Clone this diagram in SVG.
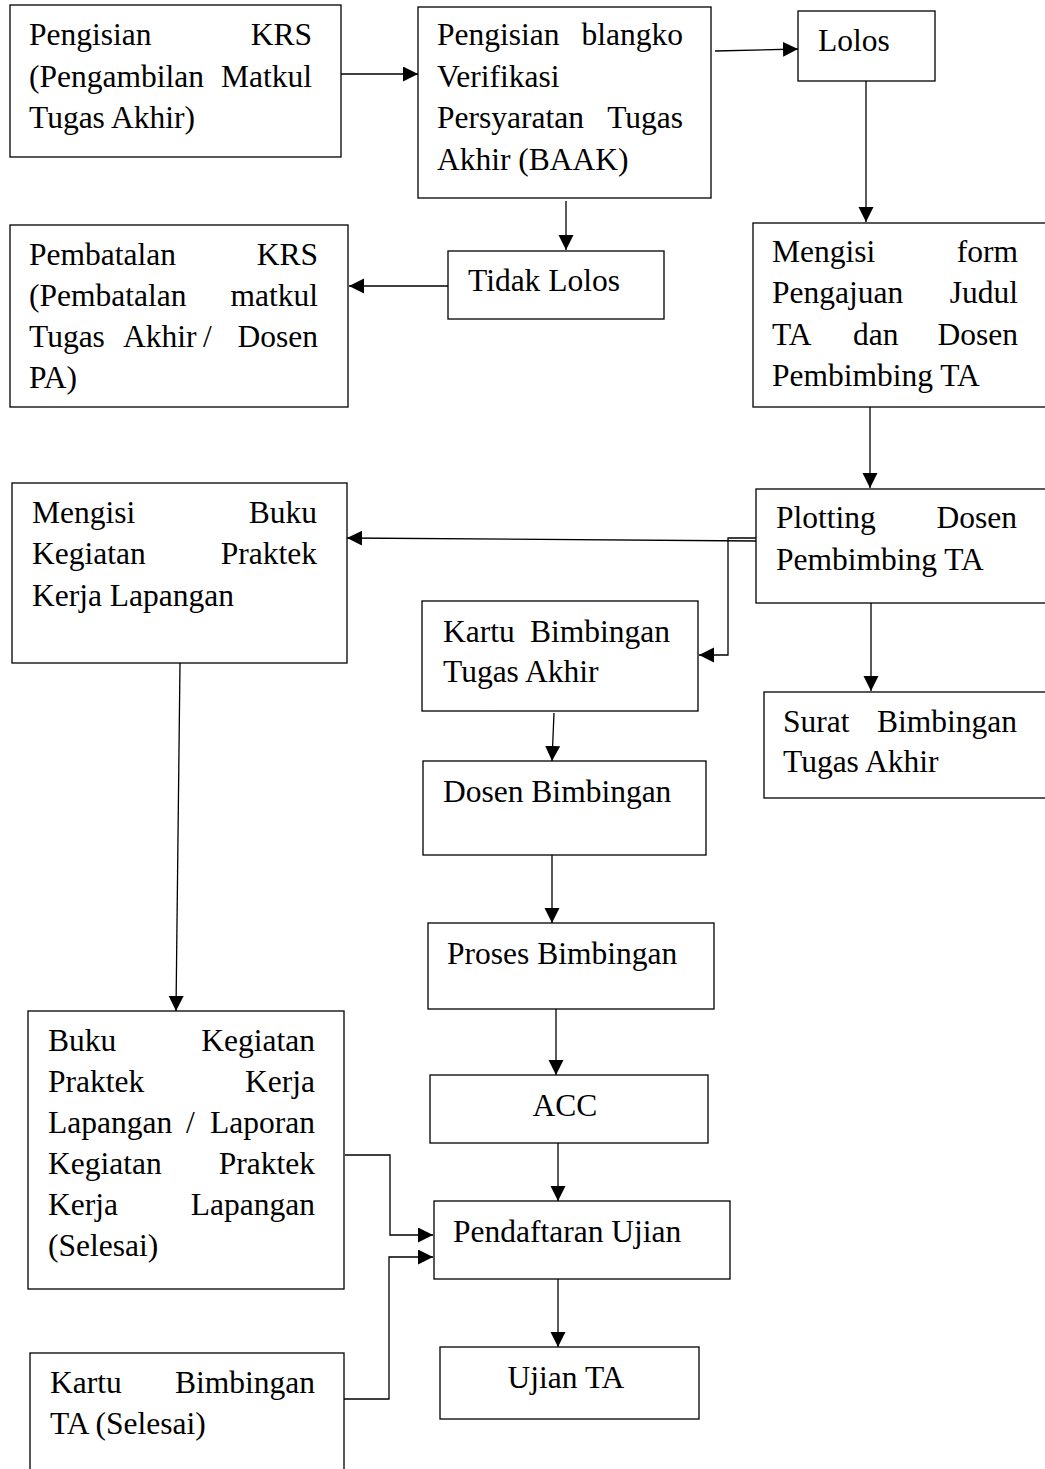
<svg xmlns="http://www.w3.org/2000/svg" width="1045" height="1469" viewBox="0 0 1045 1469">
<style>
rect{fill:#fff;stroke:#000;stroke-width:1.3}
text{font-family:"Liberation Serif","Times New Roman",serif;font-size:31.5px;fill:#000}
.e{text-anchor:end}
.m{text-anchor:middle}
.c{fill:none;stroke:#000;stroke-width:1.3}
</style>
<defs>
<marker id="ah" markerUnits="userSpaceOnUse" markerWidth="16" markerHeight="16" refX="15" refY="7.5" orient="auto">
<path d="M0,0 L15,7.5 L0,15 z" fill="#000"/>
</marker>
</defs>
<rect x="0" y="0" width="1045" height="1469" style="stroke:none"/>
<g id="connectors">
<path class="c" d="M341,74 L418,74" marker-end="url(#ah)"/>
<path class="c" d="M715,51 L798,49" marker-end="url(#ah)"/>
<path class="c" d="M866,81 L866,222" marker-end="url(#ah)"/>
<path class="c" d="M566,201 L566,250" marker-end="url(#ah)"/>
<path class="c" d="M448,286 L349,286" marker-end="url(#ah)"/>
<path class="c" d="M870,407 L870,488" marker-end="url(#ah)"/>
<path class="c" d="M756,541 L347,538" marker-end="url(#ah)"/>
<path class="c" d="M756,538 L728,538 L728,655 L699,655" marker-end="url(#ah)"/>
<path class="c" d="M871,603 L871,691" marker-end="url(#ah)"/>
<path class="c" d="M180,663 L176,1011" marker-end="url(#ah)"/>
<path class="c" d="M554,713 L552,761" marker-end="url(#ah)"/>
<path class="c" d="M552,855 L552,923" marker-end="url(#ah)"/>
<path class="c" d="M556,1009 L556,1075" marker-end="url(#ah)"/>
<path class="c" d="M558,1143 L558,1201" marker-end="url(#ah)"/>
<path class="c" d="M558,1279 L558,1347" marker-end="url(#ah)"/>
<path class="c" d="M345,1155 L390,1155 L390,1235 L433,1235" marker-end="url(#ah)"/>
<path class="c" d="M344,1399 L389,1399 L389,1257 L433,1257" marker-end="url(#ah)"/>
</g>
<g id="n-krs">
<rect x="10" y="5" width="331" height="152"/>
<text x="29" y="45">Pengisian</text><text class="e" x="312" y="45">KRS</text>
<text x="29" y="87">(Pengambilan</text><text class="e" x="312" y="87">Matkul</text>
<text x="29" y="128">Tugas Akhir)</text>
</g>
<g id="n-blangko">
<rect x="418" y="7" width="293" height="191"/>
<text x="437" y="45">Pengisian</text><text class="e" x="683" y="45">blangko</text>
<text x="437" y="87">Verifikasi</text>
<text x="437" y="128">Persyaratan</text><text class="e" x="683" y="128">Tugas</text>
<text x="437" y="170">Akhir (BAAK)</text>
</g>
<g id="n-lolos">
<rect x="798" y="11" width="137" height="70"/>
<text x="818" y="51">Lolos</text>
</g>
<g id="n-tidak">
<rect x="448" y="251" width="216" height="68"/>
<text x="468" y="291">Tidak Lolos</text>
</g>
<g id="n-pembatalan">
<rect x="10" y="225" width="338" height="182"/>
<text x="29" y="265">Pembatalan</text><text class="e" x="318" y="265">KRS</text>
<text x="29" y="306">(Pembatalan</text><text class="e" x="318" y="306">matkul</text>
<text y="347"><tspan x="29">Tugas</tspan><tspan x="123">Akhir</tspan><tspan x="203">/</tspan></text><text class="e" x="318" y="347">Dosen</text>
<text x="29" y="388">PA)</text>
</g>
<g id="n-mengisi-form">
<rect x="753" y="223" width="300" height="184"/>
<text x="772" y="262">Mengisi</text><text class="e" x="1018" y="262">form</text>
<text x="772" y="303">Pengajuan</text><text class="e" x="1018" y="303">Judul</text>
<text y="345"><tspan x="772">TA</tspan><tspan x="853">dan</tspan></text><text class="e" x="1018" y="345">Dosen</text>
<text x="772" y="386">Pembimbing TA</text>
</g>
<g id="n-plotting">
<rect x="756" y="489" width="300" height="114"/>
<text x="776" y="528">Plotting</text><text class="e" x="1017" y="528">Dosen</text>
<text x="776" y="570">Pembimbing TA</text>
</g>
<g id="n-mengisi-buku">
<rect x="12" y="483" width="335" height="180"/>
<text x="32" y="523">Mengisi</text><text class="e" x="317" y="523">Buku</text>
<text x="32" y="564">Kegiatan</text><text class="e" x="317" y="564">Praktek</text>
<text x="32" y="606">Kerja Lapangan</text>
</g>
<g id="n-kartu">
<rect x="422" y="601" width="276" height="110"/>
<text x="443" y="642">Kartu</text><text class="e" x="670" y="642">Bimbingan</text>
<text x="443" y="682">Tugas Akhir</text>
</g>
<g id="n-surat">
<rect x="764" y="692" width="300" height="106"/>
<text x="783" y="732">Surat</text><text class="e" x="1017" y="732">Bimbingan</text>
<text x="783" y="772">Tugas Akhir</text>
</g>
<g id="n-dosen">
<rect x="423" y="761" width="283" height="94"/>
<text x="443" y="802">Dosen Bimbingan</text>
</g>
<g id="n-proses">
<rect x="428" y="923" width="286" height="86"/>
<text x="447" y="964">Proses Bimbingan</text>
</g>
<g id="n-acc">
<rect x="430" y="1075" width="278" height="68"/>
<text class="m" x="565" y="1116">ACC</text>
</g>
<g id="n-buku-kegiatan">
<rect x="28" y="1011" width="316" height="278"/>
<text x="48" y="1051">Buku</text><text class="e" x="315" y="1051">Kegiatan</text>
<text x="48" y="1092">Praktek</text><text class="e" x="315" y="1092">Kerja</text>
<text y="1133"><tspan x="48">Lapangan</tspan><tspan x="186">/</tspan></text><text class="e" x="315" y="1133">Laporan</text>
<text x="48" y="1174">Kegiatan</text><text class="e" x="315" y="1174">Praktek</text>
<text x="48" y="1215">Kerja</text><text class="e" x="315" y="1215">Lapangan</text>
<text x="48" y="1256">(Selesai)</text>
</g>
<g id="n-pendaftaran">
<rect x="434" y="1201" width="296" height="78"/>
<text x="453" y="1242">Pendaftaran Ujian</text>
</g>
<g id="n-kartu-selesai">
<rect x="30" y="1353" width="314" height="150"/>
<text x="50" y="1393">Kartu</text><text class="e" x="315" y="1393">Bimbingan</text>
<text x="50" y="1434">TA (Selesai)</text>
</g>
<g id="n-ujian">
<rect x="440" y="1347" width="259" height="72"/>
<text class="m" x="566" y="1388">Ujian TA</text>
</g>
</svg>
